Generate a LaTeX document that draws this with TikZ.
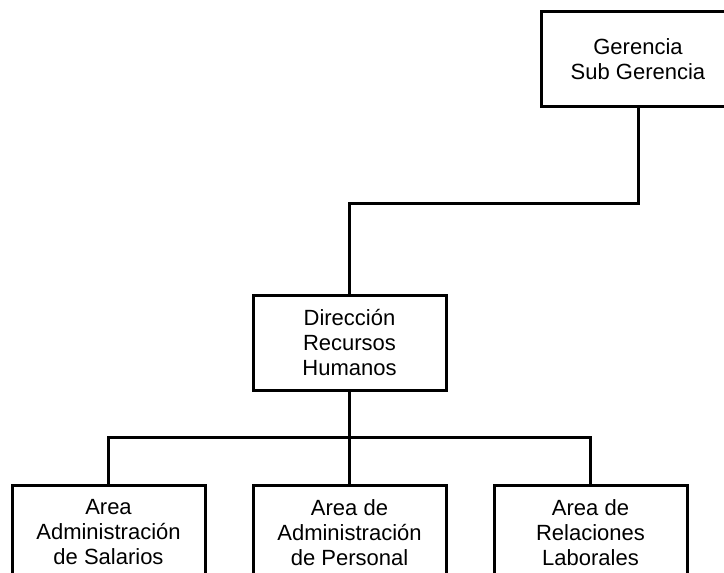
\documentclass[tikz,border=0pt]{standalone}
\usepackage{fontspec}
\setmainfont{Liberation Sans}
\usetikzlibrary{positioning}
\begin{document}
\begin{tikzpicture}[x=0.5pt, y=-0.5pt, line width=1.5pt]
% Parameters
\def\boxw{193}
\def\boxh{95}
\tikzset{
  orgbox/.style={draw, rectangle, minimum width=\boxw*0.5pt, minimum height=\boxh*0.5pt,
    align=center, inner sep=0pt, font=\fontsize{11}{12.5}\selectfont, line width=1.5pt},
}

% === Frame ===
\useasboundingbox (0,0) rectangle (724,573);
\clip (0,0) rectangle (724,573);

% === Top ===
\node[orgbox] (Ger) at (638,59) {Gerencia\\Sub Gerencia};

% === Middle ===
\node[orgbox] (Dir) at (349.5,342.5) {Dirección\\Recursos\\Humanos};

% === Areas ===
\node[orgbox] (Area-1) at (108.5,532.5) {Area\\Administración\\de Salarios};
\node[orgbox] (Area-2) at (349.5,532.5) {Area de\\Administración\\de Personal};
\node[orgbox] (Area-3) at (590.5,532.5) {Area de\\Relaciones\\Laborales};

% === Connections ===
% Gerencia -> Direccion
\draw (Ger.south) -- ++(0,95) -| (Dir.north);

% Direccion -> Areas
\coordinate (Bus) at (349.5,437);
\draw (Dir.south) -- (Bus);
\foreach \i in {1,...,3}{
  \draw (Bus) -| (Area-\i.north);
}

\end{tikzpicture}
\end{document}
